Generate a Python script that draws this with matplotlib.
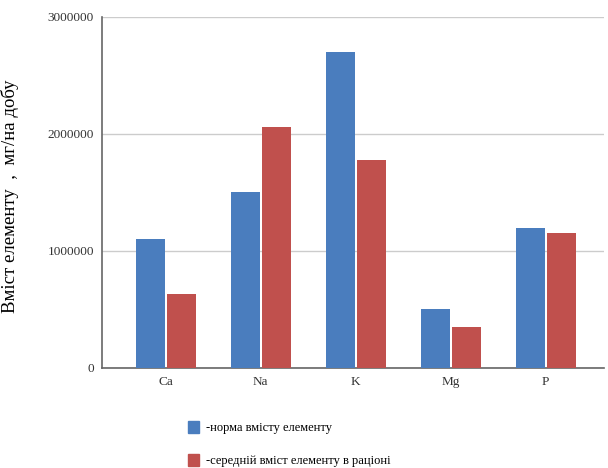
import matplotlib.pyplot as plt
import numpy as np
from matplotlib.patches import Patch

plt.rcParams['font.family'] = ['Liberation Serif', 'DejaVu Serif']

# Елементи та їх вміст (мг/на добу)
elements = ["Ca", "Na", "K", "Mg", "P"]
norma = [1100000, 1500000, 2700000, 500000, 1200000]
seredniy = [630000, 2060000, 1780000, 350000, 1150000]

label_norma = "-норма вмісту елементу"
label_seredniy = "-середній вміст елементу в раціоні"

blue = "#4a7dbe"
red = "#c0504d"

fig = plt.figure(figsize=(6.08, 4.68), dpi=100)
ax = fig.add_axes([0.168, 0.2137, 0.825, 0.75])

x = np.arange(len(elements))
w = 0.305
ax.bar(x - 0.165, norma, w, color=blue, zorder=3)
ax.bar(x + 0.165, seredniy, w, color=red, zorder=3)

ax.set_xlim(-0.67, 4.61)
ax.set_ylim(0, 3000000)
ax.set_yticks([0, 1000000, 2000000, 3000000])
ax.set_yticklabels(["0", "1000000", "2000000", "3000000"])
ax.set_xticks(x)
ax.set_xticklabels(elements)
ax.tick_params(axis='both', length=0, labelsize=9.5, colors="#333333", pad=6)
ax.grid(axis='y', color="#cccccc", linewidth=1, zorder=0)

for s in ["top", "right"]:
    ax.spines[s].set_visible(False)
ax.spines["left"].set_color("#666666")
ax.spines["bottom"].set_color("#666666")
ax.spines["left"].set_linewidth(1.2)
ax.spines["bottom"].set_linewidth(1.2)

ax.set_ylabel("Вміст елементу  ,  мг/на добу", fontsize=13.5, labelpad=20)
ax.yaxis.set_label_coords(-0.165, 0.49)

handles = [Patch(color=blue, label=label_norma), Patch(color=red, label=label_seredniy)]
fig.legend(handles=handles, loc='upper left', bbox_to_anchor=(0.29, 0.125),
           frameon=False, handlelength=0.9, handleheight=1.1, handletextpad=0.6,
           labelspacing=1.6, fontsize=9)

fig.savefig("out.png", dpi=100)
